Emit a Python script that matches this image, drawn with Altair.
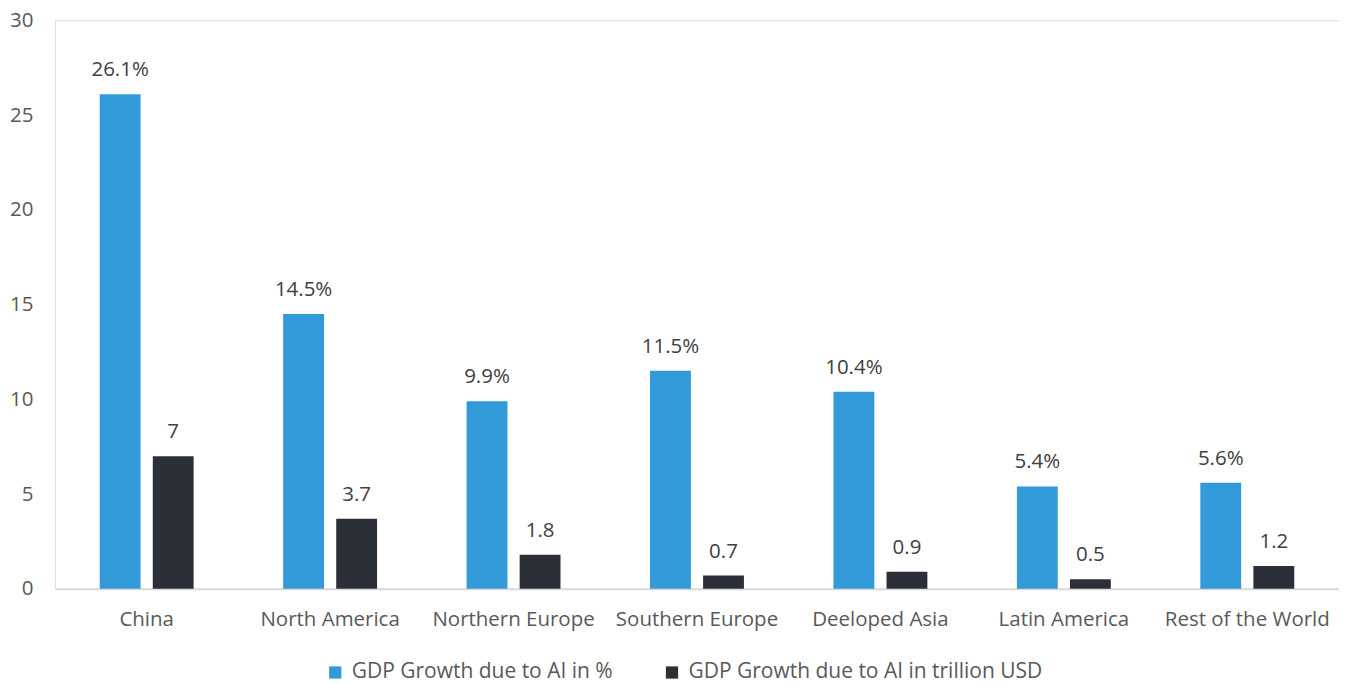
import altair as alt
import pandas as pd

regions = ["China", "North America", "Northern Europe", "Southern Europe",
           "Deeloped Asia", "Latin America", "Rest of the World"]
pct_values = [26.1, 14.5, 9.9, 11.5, 10.4, 5.4, 5.6]
usd_values = [7, 3.7, 1.8, 0.7, 0.9, 0.5, 1.2]
series_names = ["GDP Growth due to AI in %", "GDP Growth due to AI in trillion USD"]
pct_labels = ["26.1%", "14.5%", "9.9%", "11.5%", "10.4%", "5.4%", "5.6%"]
usd_labels = ["7", "3.7", "1.8", "0.7", "0.9", "0.5", "1.2"]

rows = []
for i, r in enumerate(regions):
    rows.append({"region": r, "series": series_names[0], "value": pct_values[i], "label": pct_labels[i]})
    rows.append({"region": r, "series": series_names[1], "value": usd_values[i], "label": usd_labels[i]})
df = pd.DataFrame(rows)

FONT = "Open Sans"
FS = 20.5

x = alt.X("region:N", sort=regions, title=None,
          scale=alt.Scale(paddingInner=0.488, paddingOuter=0.244),
          axis=alt.Axis(labelAngle=0, labelFontSize=FS, labelColor="#595959", labelFont=FONT,
                        ticks=False, domainColor="#d9d9d9", domainWidth=2, labelPadding=21))
xo = alt.XOffset("series:N", sort=series_names,
                 scale=alt.Scale(paddingInner=0.23, paddingOuter=0))
y = alt.Y("value:Q", title=None,
          scale=alt.Scale(domain=[0, 30], nice=False),
          axis=alt.Axis(values=[0, 5, 10, 15, 20, 25, 30], grid=False, ticks=False, domain=False,
                        labelFontSize=FS, labelColor="#595959", labelFont=FONT, labelPadding=22))

color = alt.Color("series:N", sort=series_names, title=None,
                  scale=alt.Scale(domain=series_names, range=["#329ad8", "#2b3038"]),
                  legend=alt.Legend(orient="none", legendX=270, legendY=642,
                                    direction="horizontal", symbolType="square",
                                    symbolSize=150, symbolStrokeWidth=0, labelFontSize=21,
                                    labelColor="#595959", labelFont=FONT, columnPadding=48,
                                    labelOffset=6, labelLimit=500, symbolOpacity=1))

bars = alt.Chart(df).mark_bar(opacity=1).encode(x=x, xOffset=xo, y=y, color=color)
text = alt.Chart(df).mark_text(dy=-24, fontSize=FS, color="#404040", font=FONT).encode(
    x=x, xOffset=xo, y=y, text="label:N")

chart = (bars + text).properties(
    width=1285, height=569,
    autosize=alt.AutoSizeParams(type="none"),
    padding={"left": 47, "top": 12, "right": 0, "bottom": 94},
).configure_view(stroke=None).configure(background="white")

chart.save("out.html", embed_options={"renderer": "svg", "actions": False})
